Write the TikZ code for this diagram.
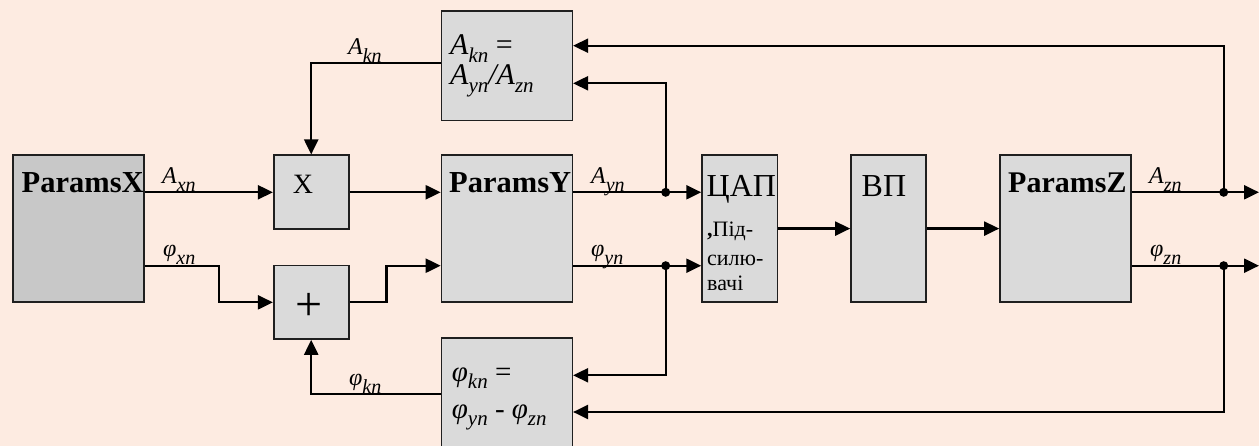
\documentclass[tikz,border=0pt]{standalone}
\usepackage{fontspec}
\setmainfont{Liberation Serif}
\usepackage{graphicx}
\usetikzlibrary{arrows.meta}
\definecolor{bg}{RGB}{253,235,225}
\definecolor{boxfill}{RGB}{218,218,218}
\definecolor{boxdark}{RGB}{200,200,200}
\newcommand\sz[1]{\fontsize{#1}{#1}\selectfont}
\newcommand\vv[4]{{\fontsize{#1}{#1}\selectfont\itshape #3\raisebox{-0.25em}{\fontsize{#2}{#2}\selectfont #4}}}
\newcommand\vl[2]{{\fontsize{24}{24}\selectfont\itshape #1\raisebox{-8pt}{\fontsize{20}{20}\selectfont #2}}}
\begin{document}
\begin{tikzpicture}[x=1pt,y=-1pt,
  blk/.style={draw=black!88, line width=1.6pt, fill=boxfill, inner sep=0pt, rectangle},
  wire/.style={line width=2.2pt, black},
  arr/.style={wire, -{Triangle[length=15pt,width=14pt]}},
  txt/.style={anchor=base west, inner sep=0pt},
  lab/.style={anchor=base west, inner sep=0pt}]
\fill[bg] (0,0) rectangle (1259,446);
\useasboundingbox (0,0) rectangle (1259,446);

% boxes
\node[blk, fill=boxdark, minimum width=131pt, minimum height=147pt] (px) at (78.5,228.6) {};
\node[blk, minimum width=75pt, minimum height=74pt] (mul) at (311.2,192.3) {};
\node[blk, minimum width=75pt, minimum height=73.3pt] (sum) at (311.2,302.35) {};
\node[blk, minimum width=130.8pt, minimum height=147.3pt] (py) at (506.9,228.6) {};
\node[blk, minimum width=130.8pt, minimum height=109.7pt] (ak) at (506.9,65.85) {};
\begin{scope}
\clip (0,0) rectangle (1259,446);
\node[blk, minimum width=130.8pt, minimum height=115pt] (fk) at (506.9,395.8) {};
\end{scope}
\node[blk, minimum width=75.3pt, minimum height=147.3pt] (dac) at (739.7,228.6) {};
\node[blk, minimum width=75pt, minimum height=147.3pt] (vp) at (888.5,228.6) {};
\node[blk, minimum width=131pt, minimum height=147.3pt] (pz) at (1065.5,228.6) {};

% helper coordinates
\coordinate (yA) at (0,192.3);
\coordinate (yF) at (0,265.7);
\coordinate (hAk) at (0,63.3);
\coordinate (hFk) at (0,393.7);
\coordinate (hAy) at (0,83.3);
\coordinate (hAz) at (0,45.7);
\coordinate (hFy) at (0,375.3);
\coordinate (hFz) at (0,412);
\coordinate (dA) at (665.7,192.3);
\coordinate (dF) at (665.7,265.7);
\coordinate (dZA) at (1223.7,192.3);
\coordinate (dZF) at (1223.7,265.7);
\coordinate (oA) at (1259,192.3);
\coordinate (oF) at (1259,265.7);

% connectors
\draw[arr] (px.east|-yA) -- (mul.west);
\draw[arr] (px.east|-yF) -- ++(74,0) |- (sum.west);
\draw[arr] (mul.east) -- (py.west|-yA);
\draw[arr] (sum.east) -- ++(37,0) |- (py.west|-yF);
\draw[arr] (ak.west|-hAk) -| (mul.north);
\draw[arr] (fk.west|-hFk) -| (sum.south);
\draw[wire] (py.east|-yA) -- (dA);
\draw[arr] (dA) -- (dac.west|-yA);
\draw[arr] (dA) |- (ak.east|-hAy);
\draw[wire] (py.east|-yF) -- (dF);
\draw[arr] (dF) -- (dac.west|-yF);
\draw[arr] (dF) |- (fk.east|-hFy);
\draw[arr] (dac.east) -- (vp.west);
\draw[arr] (vp.east) -- (pz.west);
\draw[wire] (pz.east|-yA) -- (dZA);
\draw[arr] (dZA) -- (oA);
\draw[arr] (dZA) |- (ak.east|-hAz);
\draw[wire] (pz.east|-yF) -- (dZF);
\draw[arr] (dZF) -- (oF);
\draw[arr] (dZF) |- (fk.east|-hFz);
\foreach \d in {dA,dF,dZA,dZF} \fill (\d) circle (4.5pt);

% box texts
\node[txt, font=\sz{30.5}\bfseries] (tpx) at (21.5,193) {ParamsX};
\node[txt, font=\sz{30.5}\bfseries] (tpy) at (449,193) {ParamsY};
\node[txt, font=\sz{30}\bfseries] (tpz) at (1008,193) {ParamsZ};
\node[anchor=base, inner sep=0pt, font=\sz{28}] (tmul) at (303,194) {X};
\node[inner sep=0pt, font=\sz{48}] (tsum) at (309.5,307) {+};
\node[txt, font=\sz{32}] (tdac) at (706.5,196.5) {ЦАП};
\node[txt, font=\sz{22}] (tdac1) at (707,237) {{\bfseries ,}Під-};
\node[txt, font=\sz{22}] (tdac2) at (707,266) {силю-};
\node[txt, font=\sz{22}] (tdac3) at (707,291) {вачі};
\node[txt, font=\sz{32}] (tvp) at (861.5,196.5) {ВП};
\node[txt] (tak1) at (450,55) {\vv{30}{21}{A}{kn}\sz{30} =};
\node[txt] (tak2) at (450,85) {\vv{30}{21}{A}{yn}{\sz{30}\itshape /}\vv{30}{21}{A}{zn}};
\node[txt] (tfk1) at (451.7,381.7) {\vv{29}{21}{φ}{kn}\sz{29} =};
\node[txt] (tfk2) at (451.7,418) {\vv{29}{21}{φ}{yn}\sz{29} - \vv{29}{21}{φ}{zn}};

% signal labels
\node[lab] (lAx) at (162,183.5) {\vl{A}{xn}};
\node[lab] (lFx) at (163,257) {\vl{φ}{xn}};
\node[lab] (lAk) at (348,55) {\vl{A}{kn}};
\node[lab] (lFk) at (349,385.5) {\vl{φ}{kn}};
\node[lab] (lAy) at (591,183.5) {\vl{A}{yn}};
\node[lab] (lFy) at (591,257) {\vl{φ}{yn}};
\node[lab] (lAz) at (1149,183.5) {\vl{A}{zn}};
\node[lab] (lFz) at (1150,257) {\vl{φ}{zn}};
\end{tikzpicture}
\end{document}
